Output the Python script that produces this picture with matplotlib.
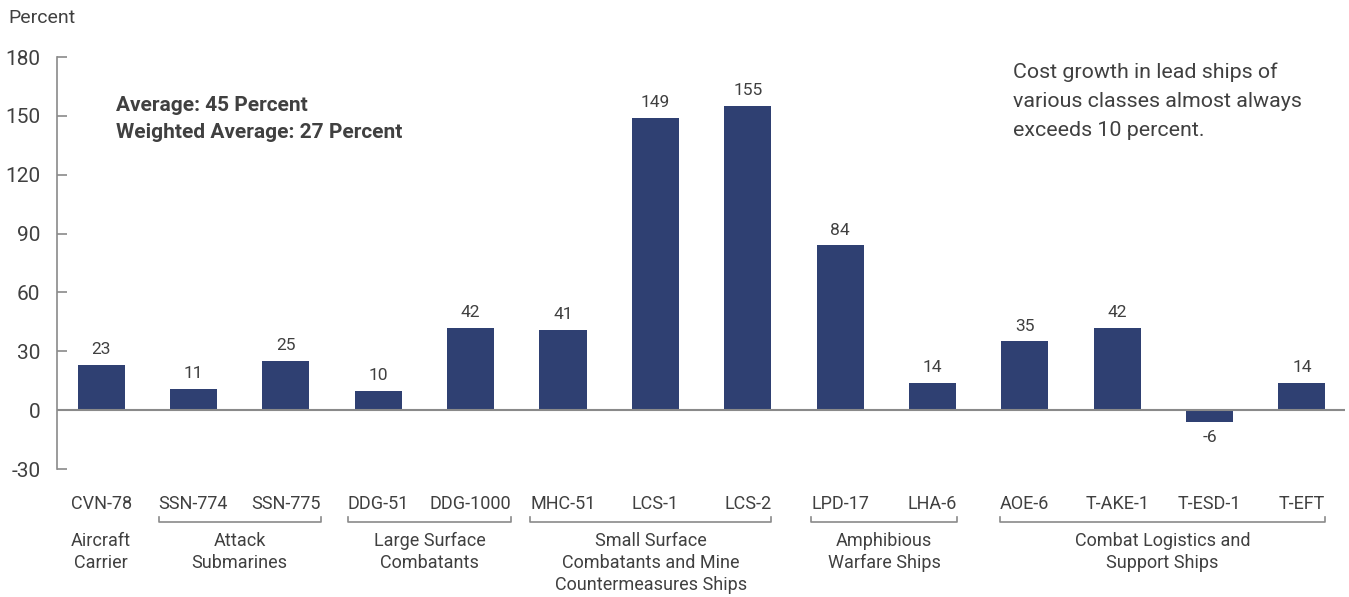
import matplotlib
matplotlib.use("Agg")
import matplotlib.pyplot as plt
import matplotlib.transforms as mtransforms

plt.rcParams['font.family'] = ['Roboto', 'DejaVu Sans']
plt.rcParams['axes.unicode_minus'] = False

ships = ["CVN-78", "SSN-774", "SSN-775", "DDG-51", "DDG-1000", "MHC-51", "LCS-1",
         "LCS-2", "LPD-17", "LHA-6", "AOE-6", "T-AKE-1", "T-ESD-1", "T-EFT"]
growth = [23, 11, 25, 10, 42, 41, 149, 155, 84, 14, 35, 42, -6, 14]

# (label, first index, last index, bracket?)
groups = [
    ("Aircraft\nCarrier", 0, 0, False),
    ("Attack\nSubmarines", 1, 2, True),
    ("Large Surface\nCombatants", 3, 4, True),
    ("Small Surface\nCombatants and Mine\nCountermeasures Ships", 5, 7, True),
    ("Amphibious\nWarfare Ships", 8, 9, True),
    ("Combat Logistics and\nSupport Ships", 10, 13, True),
]

bar_color = "#2f4072"
text_color = "#404040"
axis_color = "#8a8a8a"

fig = plt.figure(figsize=(13.49, 5.97), dpi=100)
ax = fig.add_axes([0.0423, 0.2144, 0.955, 0.6901])

x = list(range(len(ships)))
ax.bar(x, growth, width=0.51, color=bar_color, zorder=3)

for xi, v in zip(x, growth):
    if v >= 0:
        ax.text(xi, v + 4, str(v), ha="center", va="bottom", fontsize=12.5, color=text_color)
    else:
        ax.text(xi, v - 4, str(v), ha="center", va="top", fontsize=12.5, color=text_color)

ax.set_xlim(-0.477, 13.47)
ax.set_ylim(-30, 180)
ax.set_yticks(range(-30, 181, 30))
ax.axhline(0, color=axis_color, lw=1.5, zorder=4)

for s in ["top", "right", "bottom"]:
    ax.spines[s].set_visible(False)
ax.spines["left"].set_color(axis_color)
ax.spines["left"].set_linewidth(1.2)
ax.tick_params(axis="y", direction="in", length=7, color=axis_color, width=1.2,
               labelsize=15, labelcolor=text_color, pad=12)
ax.set_xticks(x)
ax.set_xticklabels(ships, fontsize=13, color=text_color)
ax.tick_params(axis="x", length=0, pad=19)

fig.text(0.006, 0.97, "Percent", fontsize=14, color=text_color, va="center", ha="left")

fig.text(0.086, 0.84, "Average: 45 Percent\nWeighted Average: 27 Percent",
         fontsize=15, fontweight="bold", color=text_color,
         va="top", ha="left", linespacing=1.58)
fig.text(0.751, 0.895, "Cost growth in lead ships of\nvarious classes almost always\nexceeds 10 percent.",
         fontsize=15.4, color=text_color, va="top", ha="left", linespacing=1.65)

# group brackets spanning the tick label extents
fig.canvas.draw()
renderer = fig.canvas.get_renderer()
labels = ax.get_xticklabels()
inv = ax.transData.inverted()
blend = mtransforms.blended_transform_factory(ax.transData, fig.transFigure)
y_br = 1 - 522 / 597
for name, i0, i1, bracket in groups:
    if bracket:
        left = inv.transform(labels[i0].get_window_extent(renderer).get_points())[0][0]
        right = inv.transform(labels[i1].get_window_extent(renderer).get_points())[1][0]
        ax.plot([left, left, right, right], [y_br + 0.009, y_br, y_br, y_br + 0.009],
                transform=blend, color=axis_color, lw=1.2, clip_on=False)
        xc = (left + right) / 2
    else:
        xc = (x[i0] + x[i1]) / 2
    ax.text(xc, 1 - 532 / 597, name, transform=blend, ha="center", va="top",
            fontsize=13, color=text_color, linespacing=1.3)

fig.savefig("out.png", dpi=100)
